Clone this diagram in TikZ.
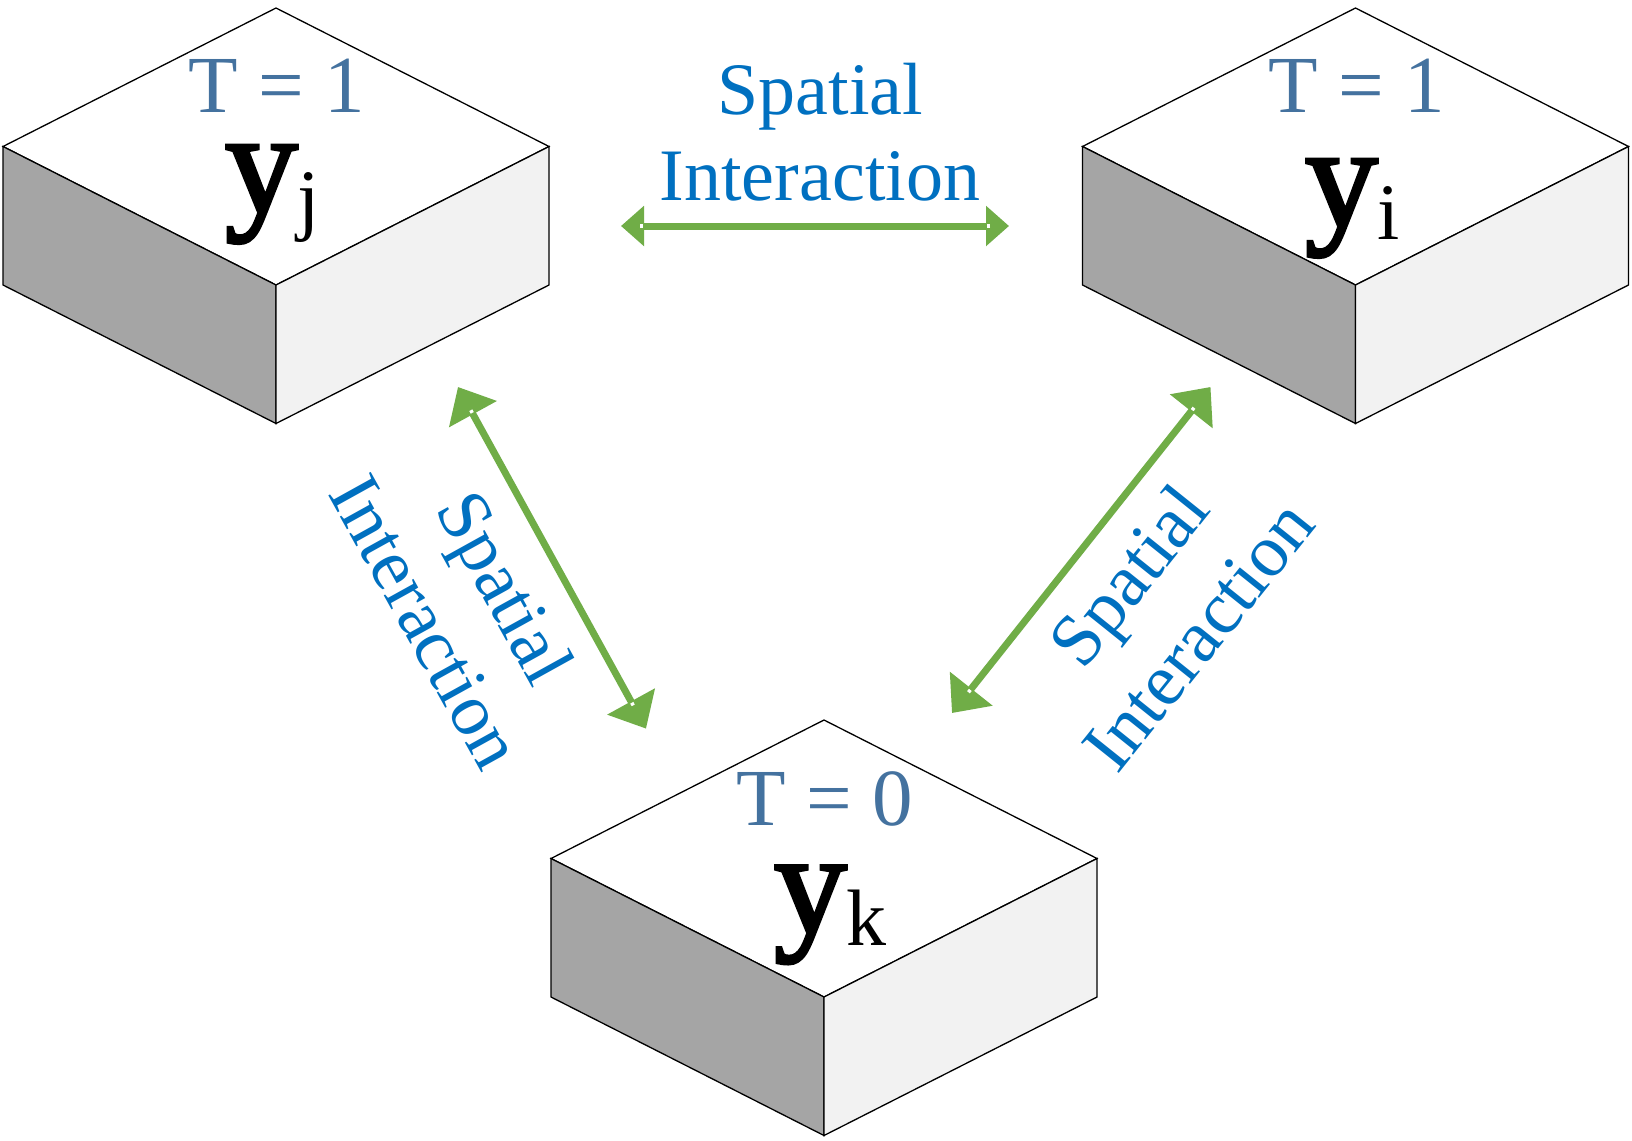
\documentclass[tikz,border=0pt]{standalone}
\usepackage{fontspec}
\setmainfont{Liberation Serif}
\newfontfamily\yfont{Liberation Serif}[FakeBold=2.5]
\usetikzlibrary{arrows.meta,calc}
\definecolor{sblue}{HTML}{0070C0}
\definecolor{tblue}{HTML}{44729F}
\definecolor{agreen}{HTML}{70AD47}
\definecolor{lface}{HTML}{A5A5A5}
\definecolor{rface}{HTML}{F2F2F2}
\newcommand\ysub[1]{{\yfont y}\raisebox{-13.5pt}{\fontsize{80}{80}\selectfont #1}}
\tikzset{
  boxline/.style={draw=black,line width=1.3pt,line join=miter},
  isobox/.pic={
    \path[boxline,fill=white] (0,0) -- (273,138.5) -- (0,277) -- (-273,138.5) -- cycle;
    \path[boxline,fill=lface] (-273,138.5) -- (0,277) -- (0,415.5) -- (-273,277) -- cycle;
    \path[boxline,fill=rface] (273,138.5) -- (0,277) -- (0,415.5) -- (273,277) -- cycle;
  },
  tlabel/.style={text=tblue,font=\fontsize{81}{90}\selectfont,inner sep=0pt,anchor=base},
  ylabel/.style={text=black,font=\fontsize{145}{150}\selectfont,inner sep=0pt,anchor=base west},
  silabel/.style={text=sblue,font=\fontsize{74}{80}\selectfont,inner sep=0pt,anchor=base},
  harrow/.style={draw=agreen,line width=7pt,{Triangle[length=23pt,width=39pt]}-{Triangle[length=23pt,width=39pt]}},
  darrow/.style={draw=agreen,line width=7pt,{Triangle[length=31pt,width=53pt]}-{Triangle[length=31pt,width=53pt]}},
  wmark/.style={draw=white,line width=3.5pt}
}
\begin{document}
\begin{tikzpicture}[x=1pt,y=-1pt]
\useasboundingbox[fill=white] (0,0) rectangle (1632,1140);
% boxes
\pic at (276,8) {isobox};
\pic at (1355.5,8) {isobox};
\pic at (824,720) {isobox};
% box labels
\node[tlabel] (tj) at (277,112) {T = 1};
\node[tlabel] (ti) at (1356.5,112.4) {T = 1};
\node[tlabel] (tk) at (825,825) {T = 0};
\node[ylabel] (yj) at (225,212) {\ysub{j}};
\node[ylabel] (yi) at (1305,226) {\ysub{i}};
\node[ylabel] (yk) at (774,932.4) {\ysub{k}};
% interaction labels
\node[silabel] (s1) at (820.5,114.5) {Spatial};
\node[silabel] (s2) at (820,200) {Interaction};
\node[silabel,rotate=-61] (l1) at (484,599.6) {Spatial};
\node[silabel,rotate=-61] (l2) at (405,634) {Interaction};
\node[silabel,rotate=51.3] (r1) at (1148,591) {Spatial};
\node[silabel,rotate=51.3] (r2) at (1217.5,650.5) {Interaction};
% arrows
\coordinate (h1) at (621,226);
\coordinate (h2) at (1009,226);
\coordinate (d1) at (458,387);
\coordinate (d2) at (646,728.6);
\coordinate (e1) at (952,713);
\coordinate (e2) at (1210.5,387);
\draw[harrow] (h1) -- (h2);
\draw[darrow] (d1) -- (d2);
\draw[darrow] (e1) -- (e2);
\draw[wmark] ($(h1)!19pt!(h2)$) -- ($(h1)!22pt!(h2)$);
\draw[wmark] ($(h2)!19pt!(h1)$) -- ($(h2)!22pt!(h1)$);
\draw[wmark] ($(d1)!26.5pt!(d2)$) -- ($(d1)!29.5pt!(d2)$);
\draw[wmark] ($(d2)!26.5pt!(d1)$) -- ($(d2)!29.5pt!(d1)$);
\draw[wmark] ($(e1)!26.5pt!(e2)$) -- ($(e1)!29.5pt!(e2)$);
\draw[wmark] ($(e2)!26.5pt!(e1)$) -- ($(e2)!29.5pt!(e1)$);
\end{tikzpicture}
\end{document}
